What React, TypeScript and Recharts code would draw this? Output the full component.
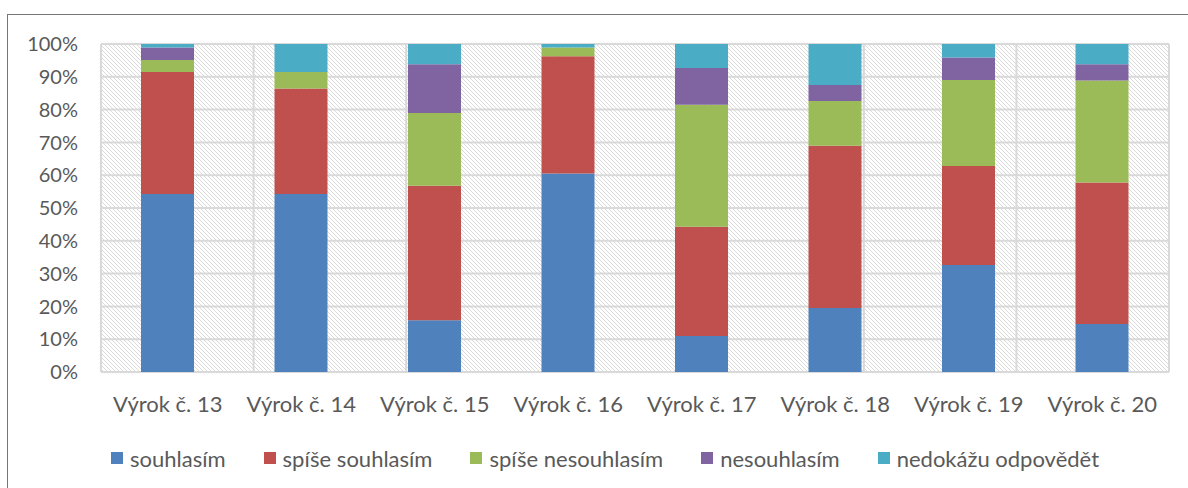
import { BarChart, Bar, XAxis, YAxis, CartesianGrid, Legend } from "recharts";

const categories = [
  "Výrok č. 13",
  "Výrok č. 14",
  "Výrok č. 15",
  "Výrok č. 16",
  "Výrok č. 17",
  "Výrok č. 18",
  "Výrok č. 19",
  "Výrok č. 20",
];

// percent of answers per statement
const souhlasim = [54.3, 54.3, 15.8, 60.5, 11.0, 19.5, 32.6, 14.6];
const spiseSouhlasim = [37.2, 32.1, 41.0, 35.8, 33.3, 49.5, 30.2, 43.2];
const spiseNesouhlasim = [3.6, 5.1, 22.2, 2.6, 37.2, 13.6, 26.2, 31.1];
const nesouhlasim = [3.8, 0, 14.8, 0, 11.2, 4.9, 6.9, 4.9];
const nedokazu = [1.1, 8.5, 6.2, 1.1, 7.3, 12.5, 4.1, 6.2];

const yTicks = [0, 10, 20, 30, 40, 50, 60, 70, 80, 90, 100];

const series = [
  { key: "souhlasim", name: "souhlasím", color: "#4F81BD", values: souhlasim },
  { key: "spiseSouhlasim", name: "spíše souhlasím", color: "#C0504D", values: spiseSouhlasim },
  { key: "spiseNesouhlasim", name: "spíše nesouhlasím", color: "#9BBB59", values: spiseNesouhlasim },
  { key: "nesouhlasim", name: "nesouhlasím", color: "#8064A2", values: nesouhlasim },
  { key: "nedokazu", name: "nedokážu odpovědět", color: "#4BACC6", values: nedokazu },
];

const data = categories.map((name, i) => {
  const row: Record<string, string | number> = { name };
  series.forEach((s) => {
    row[s.key] = s.values[i];
  });
  return row;
});

// category boundaries for the vertical grid lines
const gridTicks = [...categories.map((_, i) => i), categories.length];

const TEXT = "#595959";

function LegendContent() {
  return (
    <div style={{ display: "flex", justifyContent: "center", alignItems: "center", height: 40, gap: 38 }}>
      {series.map((s) => (
        <div key={s.key} style={{ display: "flex", alignItems: "center" }}>
          <span style={{ width: 12, height: 12, background: s.color, marginRight: 7, display: "inline-block" }} />
          <span style={{ fontSize: 22, color: TEXT }}>{s.name}</span>
        </div>
      ))}
    </div>
  );
}

export default function App() {
  return (
    <div
      style={{
        position: "absolute",
        left: 0,
        top: 0,
        width: 1188,
        height: 488,
        overflow: "hidden",
        background: "#fff",
        fontFamily: "Lato, sans-serif",
      }}
    >
      <div
        style={{
          position: "absolute",
          left: 7,
          top: 14,
          width: 1181,
          height: 474,
          borderLeft: "1px solid #767676",
          borderTop: "1px solid #767676",
          boxSizing: "border-box",
        }}
      />
      <BarChart
        width={1188}
        height={488}
        data={data}
        margin={{ top: 44, right: 19, bottom: 10, left: 0 }}
        barSize={53}
      >
        <defs>
          <pattern id="hatch" patternUnits="userSpaceOnUse" width={4} height={4}>
            <rect width={4} height={4} fill="#fff" />
            <path d="M-1,-1 L5,5 M-1,3 L1,5 M3,-1 L5,1" stroke="#dadada" strokeWidth={1} />
          </pattern>
        </defs>
        <CartesianGrid xAxisId="grid" fill="url(#hatch)" fillOpacity={1} stroke="#d9d9d9" strokeWidth={2} />
        <XAxis
          dataKey="name"
          interval={0}
          tickLine={false}
          axisLine={false}
          tickSize={0}
          tickMargin={24}
          height={66}
          tick={{ fill: TEXT, fontSize: 22 }}
        />
        <XAxis xAxisId="grid" type="number" domain={[0, categories.length]} ticks={gridTicks} hide />
        <YAxis
          domain={[0, 100]}
          ticks={yTicks}
          tickFormatter={(v: number) => `${v}%`}
          width={101}
          axisLine={false}
          tickLine={false}
          tickSize={0}
          tickMargin={23}
          tick={{ fill: TEXT, fontSize: 20 }}
        />
        <Legend
          verticalAlign="bottom"
          height={40}
          wrapperStyle={{ left: 20, width: 1170 }}
          content={<LegendContent />}
        />
        {series.map((s) => (
          <Bar key={s.key} dataKey={s.key} name={s.name} stackId="a" fill={s.color} isAnimationActive={false} />
        ))}
      </BarChart>
    </div>
  );
}
